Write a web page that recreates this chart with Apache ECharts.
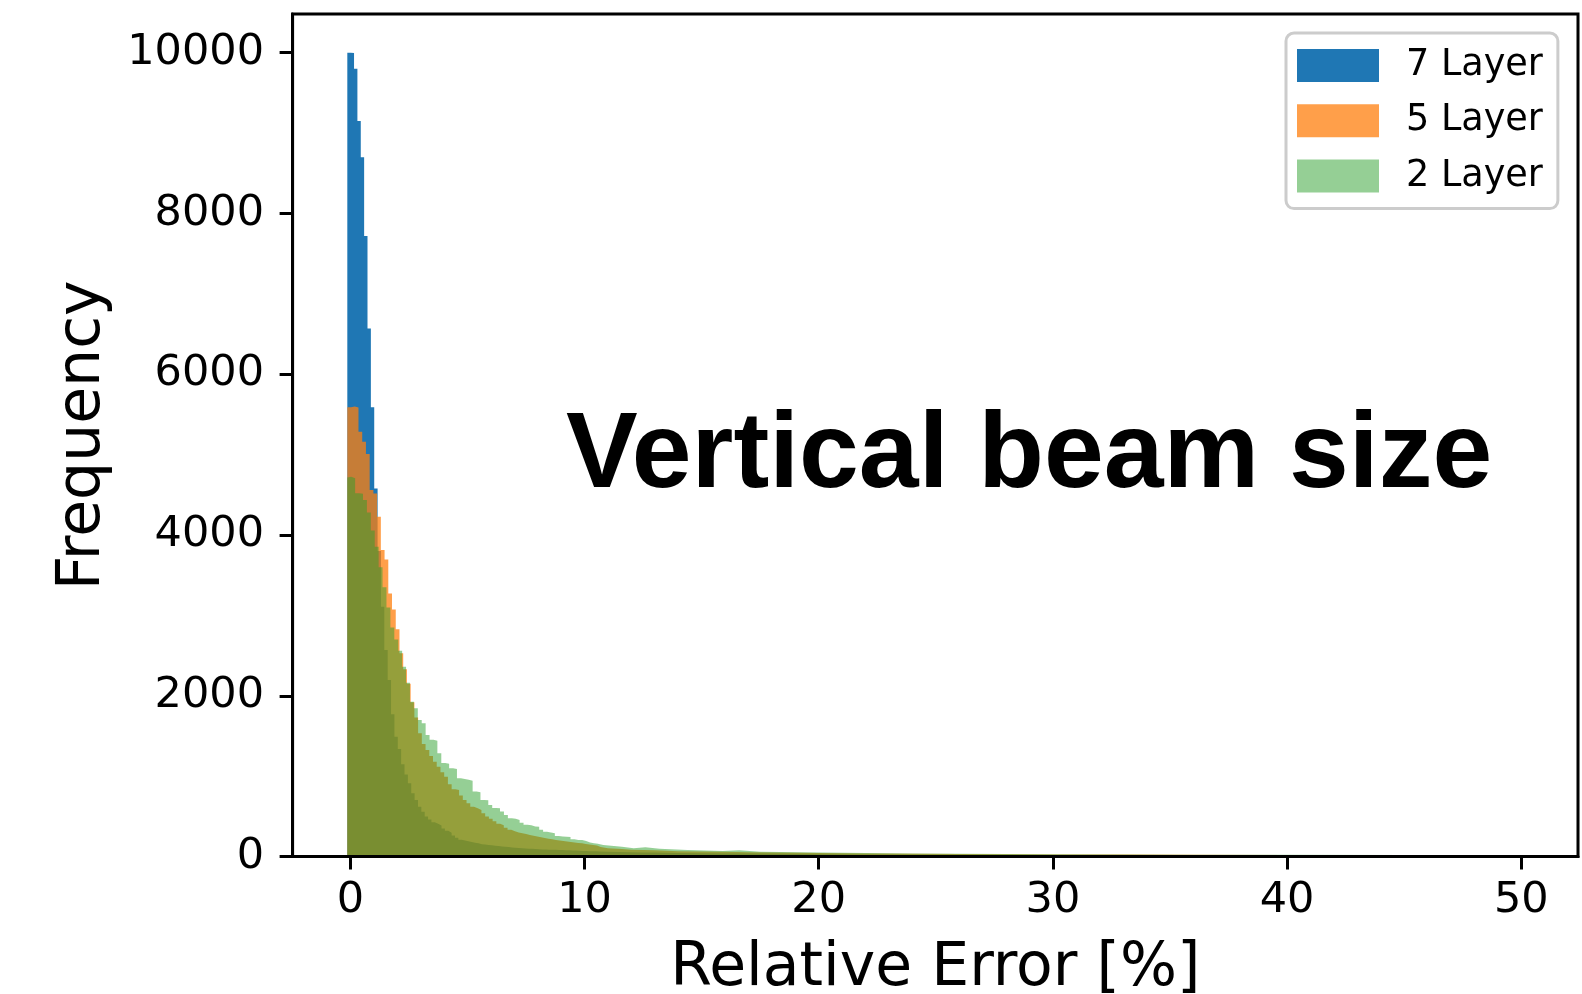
<!DOCTYPE html>
<html><head><meta charset="utf-8">
<script src="https://cdn.jsdelivr.net/npm/echarts@6/dist/echarts.min.js"></script>
<style>html,body{margin:0;padding:0;background:#fff}#c{width:1582px;height:994px}</style>
</head><body><div id="c"></div><script>
// ---- data ----
const seriesNames = ['7 Layer', '5 Layer', '2 Layer'];
const histStart = -0.128;                      // left edge of first bin (all series)
const binWidths = [0.1437, 0.1591, 0.1672];    // bin widths (7, 5, 2 layer)
const histEnds = [43.0, 47.6, 50.04];          // right edge of last bin
// counts of consecutive bins from histStart
const blueCounts = [10000, 10000, 9995, 9800, 9150, 8700, 7720, 6570, 5590, 4580,
  3800, 3108, 2569, 2196, 1770, 1490, 1340, 1150, 1020, 912,
  787, 704, 621, 559, 500, 462, 428, 410, 388, 350,
  322, 298, 262, 236, 210, 200, 192, 182, 172, 165,
  155, 150, 145, 140, 136, 132, 127, 122, 118, 114,
  110, 107, 104, 101, 99, 97, 94, 91, 89, 88,
  86, 85, 84, 83, 82, 80, 78, 77, 75, 73,
  71, 70, 68, 67, 66];
const orangeCounts = [5450, 5590, 5600, 5585, 5285, 5160, 5007, 4560, 4518, 4227,
  3813, 3697, 3274, 3075, 2827, 2530, 2330, 2150, 1920, 1730,
  1533, 1400, 1326, 1250, 1180, 1118, 1050, 994, 900, 837,
  828, 760, 704, 663, 620, 601, 580, 540, 500, 470,
  440, 410, 390, 360, 335, 315, 300, 290, 280, 270,
  260, 250, 240, 230, 222, 215, 208, 200, 195, 188,
  182, 175, 170, 165, 158, 152, 145, 138];
const greenCounts = [4717, 4725, 4705, 4520, 4515, 4435, 4280, 4055, 3855, 3600,
  3350, 3100, 2850, 2700, 2561, 2362, 2163, 1927, 1844, 1699,
  1658, 1512, 1455, 1440, 1285, 1165, 1155, 1100, 1090, 975,
  965, 955, 945, 810, 800, 705, 700, 642, 605, 600,
  560, 517, 476, 470, 455, 420, 395, 390, 375, 372,
  335, 310, 300, 290, 255, 250, 248, 245, 215, 206,
  205, 195, 175, 165];
// flat low tails, read as [segment start, count]
const blueTail = [[10.65, 64], [11, 60], [11.5, 57], [12, 55], [12.5, 52], [13, 50], [14, 46],
  [15, 43], [16, 40], [17, 38], [18, 35], [19, 32], [20, 28], [22, 24], [24, 20], [26, 18],
  [28, 16], [30, 14], [33, 12], [36, 10], [40, 8]];
const orangeTail = [[10.69, 118], [11, 105], [11.6, 95], [12, 85], [13, 80], [14, 66],
  [15, 64], [16, 60], [17, 53], [18, 50], [19, 48], [20, 45], [22, 40], [24, 36], [26, 32],
  [28, 30], [30, 27], [33, 25], [36, 22], [40, 20], [43, 18], [45, 18]];
const greenTail = [[10.57, 160], [10.8, 144], [11.6, 123], [12.1, 103], [12.6, 115],
  [13.2, 98], [14.4, 82], [15.9, 70], [16.6, 78], [17.5, 61], [19.2, 55], [20, 50],
  [22, 45], [24, 40], [26, 36], [28, 33], [30, 30], [33, 27], [36, 24], [40, 22],
  [45, 20], [48, 18]];
const xTicks = [0, 10, 20, 30, 40, 50];
const yTicks = [0, 2000, 4000, 6000, 8000, 10000];
const titleText = 'Vertical beam size';

// ---- build ----
function stepData(counts, width, tail, end) {
  const pts = counts.map((c, i) => [histStart + i * width, c]);
  tail.forEach(t => pts.push([t[0], t[1]]));
  pts.push([end, 0]);
  return pts;
}
const allCounts = [blueCounts, orangeCounts, greenCounts];
const allTails = [blueTail, orangeTail, greenTail];
const colors = ['rgba(31,119,180,1)', 'rgba(255,127,14,0.75)', 'rgba(44,160,44,0.5)'];

const chart = echarts.init(document.getElementById('c'), null, {renderer: 'canvas'});
const tickFont = {fontFamily: 'DejaVu Sans', fontSize: 43, color: '#000', formatter: v => String(v)};
chart.setOption({
  animation: false,
  backgroundColor: '#fff',
  grid: {left: 292.6, right: 4, top: 14.1, bottom: 137.4, show: true,
    outerBoundsMode: 'none', containLabel: false,
    borderColor: '#000', borderWidth: 3, backgroundColor: 'transparent'},
  xAxis: {
    type: 'value', min: -2.464, max: 52.42, z: 10,
    name: 'Relative Error [%]', nameLocation: 'middle', nameGap: 83,
    nameTextStyle: {fontFamily: 'DejaVu Sans', fontSize: 60, color: '#000'},
    axisLine: {show: true, onZero: false, lineStyle: {color: '#000', width: 3}},
    axisTick: {show: true, customValues: xTicks, length: 13, lineStyle: {color: '#000', width: 3}},
    axisLabel: Object.assign({customValues: xTicks, margin: 23}, tickFont),
    splitLine: {show: false}
  },
  yAxis: {
    type: 'value', min: 0, max: 10480, z: 10,
    name: 'Frequency', nameLocation: 'middle', nameGap: 179,
    nameTextStyle: {fontFamily: 'DejaVu Sans', fontSize: 60, color: '#000'},
    axisLine: {show: true, onZero: false, lineStyle: {color: '#000', width: 3}},
    axisTick: {show: true, customValues: yTicks, length: 13, lineStyle: {color: '#000', width: 3}},
    axisLabel: Object.assign({customValues: yTicks, margin: 28.6, padding: [4, 0, 0, 0]}, tickFont),
    splitLine: {show: false}
  },
  legend: {
    orient: 'vertical', left: 1286, top: 33,
    padding: [14, 15, 14, 11],
    itemWidth: 82, itemHeight: 33, itemGap: 18.3,
    backgroundColor: 'rgba(255,255,255,0.8)', borderColor: '#cccccc', borderWidth: 3, borderRadius: 8,
    textStyle: {fontFamily: 'DejaVu Sans', fontSize: 36.6, color: '#000', lineHeight: 33, padding: [0, 0, 0, 22]},
    itemStyle: {borderWidth: 0},
    data: seriesNames.map(n => ({name: n, icon: 'rect'}))
  },
  graphic: [{
    type: 'text', left: 566, top: 403, z: 20,
    style: {text: titleText, fontFamily: 'Liberation Sans', fontWeight: 'bold', fontSize: 107.5, fill: '#000'}
  }],
  series: seriesNames.map((n, i) => ({
    name: n, type: 'line', step: 'start', symbol: 'none', showSymbol: false,
    data: stepData(allCounts[i], binWidths[i], allTails[i], histEnds[i]),
    itemStyle: {color: colors[i]},
    lineStyle: {width: 0, opacity: 0},
    areaStyle: {color: colors[i], opacity: 1},
    z: 2 + i
  }))
});
</script></body></html>
